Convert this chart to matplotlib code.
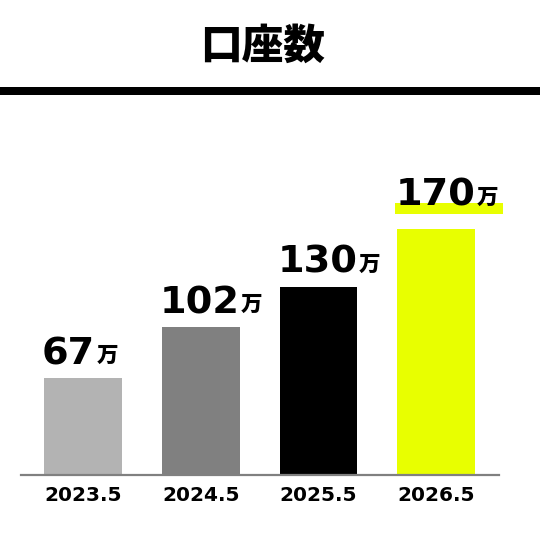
"""
口座数 bar chart
"""

import matplotlib
matplotlib.use('Agg')
import matplotlib.pyplot as plt
from matplotlib.patches import Rectangle

plt.rcParams['font.family'] = ['Noto Sans CJK JP', 'DejaVu Sans']

# data
periods = ['2023.5', '2024.5', '2025.5', '2026.5']
accounts = [67, 102, 130, 170]          # 万
bar_colors = ['#b3b3b3', '#808080', '#000000', '#e8ff00']
unit = '万'
title = '口座数'
highlight_idx = 3

BAR_W = 0.66
DPI = 100

fig = plt.figure(figsize=(5.4, 5.4), dpi=DPI)
ax = fig.add_axes([21 / 540, 65 / 540, 478 / 540, 365 / 540])

x = list(range(len(periods)))
ax.bar(x, accounts, width=BAR_W, color=bar_colors, zorder=2)

ax.set_xlim(-0.527, 3.534)
ax.set_ylim(0, 252)

# value labels: big number + small unit, sharing one baseline
nums = []
for i, v in enumerate(accounts):
    left = x[i] - BAR_W / 2
    dy = 10
    if i == highlight_idx:
        dy = 16.5
        # yellow marker stripe behind the label
        ax.add_patch(Rectangle((left - 0.02, v + 10.5), 0.92, 7,
                               color=bar_colors[i], lw=0, clip_on=False, zorder=1))
    num = ax.annotate(str(v), xy=(left, v), xytext=(-1.5, dy), textcoords='offset points',
                      ha='left', va='baseline', fontsize=27.5, fontweight='bold',
                      family='DejaVu Sans', color='#000000', zorder=3)
    nums.append((num, left, v, dy))

fig.canvas.draw()
for num, left, v, dy in nums:
    w_pt = num.get_window_extent().width * 72 / DPI
    ax.annotate(unit, xy=(left, v), xytext=(-1.5 + w_pt + 1, dy + 1.5),
                textcoords='offset points', ha='left', va='baseline',
                fontsize=15.5, fontweight='black', color='#000000', zorder=3)

ax.set_xticks(x)
ax.set_xticklabels(periods, fontsize=14.5, fontweight='bold', family='DejaVu Sans')
ax.tick_params(axis='x', length=0, pad=8)
ax.set_yticks([])

for side in ['top', 'right', 'left']:
    ax.spines[side].set_visible(False)
ax.spines['bottom'].set_color('#808080')
ax.spines['bottom'].set_linewidth(1.6)

# title and heavy rule
fig.text(263 / 540, 1 - 47 / 540, title, ha='center', va='center',
         fontsize=30, fontweight='black')
fig.add_artist(Rectangle((0, 1 - 95 / 540), 1, 8 / 540, color='#000000',
                         lw=0, transform=fig.transFigure))

fig.savefig('out.png', dpi=DPI)
